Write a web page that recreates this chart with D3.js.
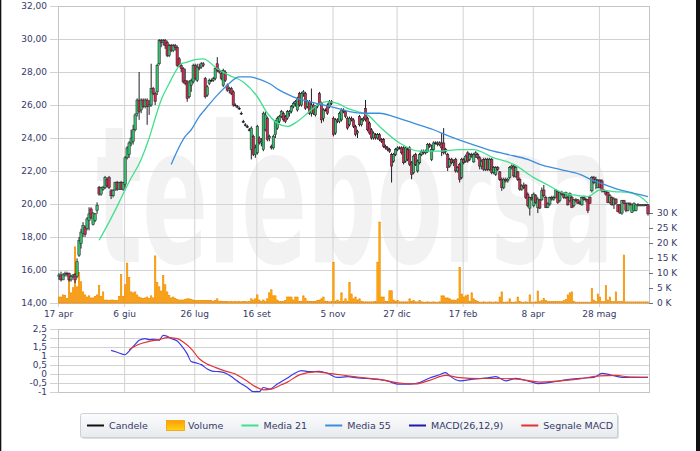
<!DOCTYPE html>
<html><head><meta charset="utf-8">
<script src="https://cdn.jsdelivr.net/npm/d3@7"></script>
<style>body{margin:0;background:#fff}svg{display:block}</style>
</head><body>
<script>
// ---------- DATA ----------
const open=[
15.6,15.7,15.4,15.7,15.8,15.8,15.4,15.6,15.75,15.6,
16.9,17.6,18.2,18.6,18.5,19.0,19.7,18.75,19.0,19.6,
21.0,20.6,20.9,21.0,21.5,21.6,20.8,20.5,20.85,21.3,
20.9,21.3,20.9,21.2,22.8,23.0,23.7,23.8,24.5,25.5,
26.3,25.7,26.3,25.9,26.3,25.9,26.0,27.0,26.7,26.8,
28.5,29.9,29.8,29.9,29.8,29.0,29.6,29.3,29.6,29.5,
28.8,28.4,28.2,27.5,27.4,26.5,27.2,27.4,28.4,27.5,
28.3,28.3,28.5,27.6,26.6,27.3,27.5,27.5,27.6,28.5,
28.1,27.9,27.2,28.0,27.2,26.9,27.0,26.8,26.0,25.9,
25.8,25.5,25.0,24.8,24.7,24.5,23.3,24.1,23.0,23.1,
24.0,23.7,23.3,24.5,25.2,24.0,23.5,23.4,24.2,24.6,
25.0,25.3,25.5,25.3,25.2,25.5,25.6,25.9,26.1,25.7,
26.7,26.0,26.7,26.7,25.9,26.2,25.5,26.0,25.4,25.9,
26.7,26.1,25.2,25.7,26.0,25.9,26.2,25.2,24.3,25.1,
25.0,25.1,25.7,25.6,25.2,24.8,25.2,25.1,24.7,24.3,
25.3,24.8,25.1,25.8,25.2,24.9,24.5,24.0,24.2,24.0,
24.2,23.9,23.9,23.5,23.4,23.3,23.0,22.6,23.0,23.3,
23.4,23.4,23.4,22.6,23.3,23.4,22.5,21.9,23.0,22.0,
22.5,23.0,23.2,23.1,23.2,23.6,22.7,23.3,23.7,23.7,
23.6,23.7,23.7,23.2,23.0,22.3,22.7,22.5,22.7,22.0,
22.4,21.6,22.7,22.6,23.1,22.7,23.0,22.55,23.0,23.0,
22.8,22.3,22.7,22.1,22.7,22.1,22.7,21.9,21.8,22.2,
21.95,21.5,21.0,21.5,21.4,21.6,22.2,22.3,21.65,21.95,
21.5,20.9,21.1,21.15,20.6,19.75,20.4,19.9,20.5,19.8,
20.25,20.25,20.85,20.4,19.8,20.0,20.4,20.3,20.4,20.75,
20.2,20.7,20.6,20.4,20.4,20.2,20.4,19.9,20.25,20.25,
20.05,19.95,20.4,20.3,20.25,20.4,20.8,21.6,21.3,21.0,
21.45,21.4,20.8,20.75,20.7,20.1,20.4,19.95,20.3,19.95,
19.95,19.45,20.2,20.05,19.6,20.05,19.5,19.6,19.6,19.95,
19.9,19.95,19.9,19.95,19.95];
const high=[
15.8,15.9,15.8,15.9,15.9,15.85,15.7,15.75,15.8,16.7,
18.0,18.5,18.9,18.7,19.2,19.8,19.8,19.5,19.45,20.1,
21.1,21.05,21.1,21.7,21.6,21.7,20.9,20.9,21.35,21.4,
21.35,21.4,21.35,22.9,23.5,23.8,24.5,24.8,25.5,26.4,
28.0,26.4,26.4,26.4,26.4,26.3,28.5,27.1,26.8,28.5,
30.0,30.0,30.0,30.0,29.9,29.7,29.7,29.7,29.7,29.6,
28.9,28.5,28.3,28.2,27.5,27.5,27.6,28.5,28.5,28.5,
28.5,28.6,28.6,27.7,27.2,27.6,27.6,27.7,28.3,28.9,
28.2,28.1,28.2,28.1,27.3,27.1,27.1,26.9,26.1,26.0,
25.9,25.6,25.1,24.9,24.8,24.6,24.7,24.2,23.6,24.8,
24.1,24.0,25.6,25.6,25.3,24.2,23.6,24.2,25.1,25.3,
25.4,25.7,25.6,25.4,25.7,25.7,26.0,26.2,26.3,26.5,
26.8,26.8,26.9,26.8,26.3,26.3,27.0,26.1,26.0,26.1,
26.8,26.2,25.8,25.8,26.1,26.3,26.3,25.3,25.2,25.2,
25.6,25.8,25.8,25.7,25.3,25.3,25.3,25.2,24.8,24.5,
25.4,25.2,25.3,26.3,25.3,25.0,24.6,24.4,24.3,24.3,
24.3,24.0,24.0,23.6,23.5,23.4,23.1,23.1,23.4,23.5,
23.5,23.5,23.5,23.5,23.4,23.5,22.6,23.0,23.1,22.7,
23.1,23.3,23.3,23.3,23.7,23.7,23.6,23.8,23.8,23.8,
23.8,24.3,24.6,23.4,23.1,22.8,22.8,22.7,22.8,22.3,
22.5,22.8,22.8,23.0,23.2,23.1,23.1,23.1,23.2,23.1,
22.9,22.7,22.8,22.8,22.8,22.8,22.8,22.3,22.3,22.3,
22.0,21.6,21.6,21.6,21.6,22.3,22.4,22.4,22.3,22.0,
21.6,21.2,21.3,21.2,20.7,20.45,20.6,20.7,20.6,20.4,
20.3,21.0,21.15,20.5,20.1,20.45,20.5,20.5,20.9,20.8,
20.75,20.8,20.7,20.75,20.5,20.7,20.5,20.3,20.35,20.3,
20.2,20.45,20.5,20.35,20.3,20.5,21.7,21.7,21.65,21.5,
21.5,21.5,20.9,20.8,20.75,20.6,20.45,20.4,20.35,20.0,
20.0,20.25,20.25,20.1,20.1,20.1,20.0,20.1,20.0,20.05,
20.0,20.0,20.0,20.0,20.0];
const low=[
15.4,15.3,15.4,15.6,15.6,15.3,15.3,15.5,15.2,15.5,
16.8,17.3,18.0,18.0,18.4,18.4,19.1,18.7,18.9,19.4,
20.5,20.5,20.8,20.9,21.0,20.9,20.3,20.4,20.8,20.8,
20.85,20.85,20.8,21.0,22.7,22.8,23.5,23.6,24.4,25.3,
25.1,25.5,25.8,25.8,24.8,25.4,25.9,26.6,26.0,26.6,
28.4,29.5,29.6,29.4,28.9,28.9,29.2,29.2,29.3,28.3,
28.3,28.0,27.3,27.2,26.2,26.4,26.8,27.3,27.5,27.4,
28.1,28.2,28.3,26.4,26.5,27.2,27.4,27.4,27.5,28.0,
27.9,27.5,27.1,27.4,26.8,26.7,26.6,25.9,25.9,25.8,
25.7,25.4,24.9,24.7,24.6,24.4,22.7,22.9,22.8,23.0,
23.6,23.5,23.2,24.4,23.8,23.8,23.3,23.3,24.0,24.5,
24.9,25.2,25.0,24.9,25.1,25.3,25.5,25.8,25.9,25.6,
25.9,25.9,26.5,25.7,25.8,25.4,25.3,25.4,25.3,25.8,
26.0,24.9,25.0,25.6,25.4,25.8,26.0,24.1,24.2,24.9,
24.9,25.0,25.5,25.2,24.5,24.7,25.0,24.6,24.1,24.0,
24.7,24.7,25.0,25.0,24.4,24.2,23.9,23.9,23.9,23.9,
23.8,23.7,23.4,23.3,23.2,23.1,21.3,22.5,22.9,23.2,
23.3,23.0,22.4,22.5,22.6,22.3,21.5,21.8,22.3,21.9,
22.4,22.9,23.0,23.0,23.1,23.4,22.6,23.2,23.6,23.5,
23.5,22.9,23.0,23.0,22.0,22.2,22.4,22.3,21.9,21.9,
21.3,21.5,22.4,22.5,22.5,22.6,22.8,22.5,22.8,22.7,
22.1,22.1,22.0,22.0,22.0,22.0,21.8,21.8,21.7,22.0,
21.4,20.8,20.9,21.3,21.3,21.5,22.1,21.6,21.6,21.4,
20.8,20.8,20.9,20.3,19.8,19.3,20.2,19.8,20.0,19.45,
19.7,20.2,20.4,19.75,19.75,19.9,20.2,20.2,20.35,20.0,
20.1,20.5,20.3,20.3,19.9,20.1,19.75,19.8,20.1,20.0,
19.95,19.9,20.2,20.1,19.45,20.0,20.7,21.2,20.9,20.95,
20.95,20.7,20.7,20.5,20.05,20.0,19.9,19.7,20.0,19.5,
19.4,19.35,20.0,19.5,19.55,19.9,19.45,19.55,19.55,19.85,
19.85,19.85,19.85,19.9,19.3];
const close=[
15.7,15.4,15.7,15.8,15.75,15.4,15.6,15.7,15.4,16.5,
17.8,18.3,18.7,18.15,19.1,19.4,19.15,19.45,19.4,19.9,
20.6,21.0,21.0,21.6,21.1,21.0,20.5,20.8,21.3,20.9,
21.3,20.9,21.3,22.8,23.4,23.7,24.0,24.5,25.4,26.3,
25.6,26.3,25.9,26.3,25.9,26.0,27.0,26.7,26.2,28.4,
29.9,29.8,29.9,29.6,29.0,29.6,29.3,29.6,29.5,28.4,
28.4,28.2,27.4,27.3,26.4,27.4,27.5,28.4,27.6,28.3,
28.2,28.5,28.4,26.5,27.1,27.5,27.5,27.6,28.2,28.1,
28.0,27.6,28.1,27.5,26.9,27.0,26.7,26.0,26.0,25.85,
25.8,25.5,25.0,24.8,24.7,24.5,24.6,23.0,23.4,24.7,
23.7,23.8,25.5,25.4,23.9,24.1,23.4,24.1,25.0,25.2,
25.3,25.6,25.1,25.0,25.6,25.6,25.9,26.1,26.2,26.4,
26.0,26.7,26.8,25.8,26.2,25.5,26.0,25.5,25.9,26.0,
26.1,25.1,25.7,25.7,25.5,26.2,26.1,24.2,25.1,25.0,
25.5,25.7,25.6,25.3,24.6,25.2,25.1,24.7,24.2,24.4,
24.8,25.1,25.2,25.1,24.5,24.3,24.0,24.3,24.0,24.2,
23.9,23.8,23.5,23.4,23.3,23.2,22.3,23.0,23.3,23.4,
23.4,23.1,22.5,23.4,22.7,22.4,21.8,22.9,22.4,22.6,
23.0,23.2,23.1,23.2,23.6,23.5,23.3,23.7,23.7,23.6,
23.7,23.4,23.1,23.3,22.2,22.7,22.5,22.6,22.0,22.2,
21.5,22.7,22.5,22.9,22.6,23.0,22.9,23.0,23.1,22.8,
22.3,22.6,22.1,22.7,22.1,22.7,21.9,22.2,22.2,22.1,
21.5,21.0,21.5,21.4,21.5,22.2,22.3,21.7,22.2,21.5,
20.9,21.1,21.0,20.4,19.9,20.4,20.3,20.6,20.1,20.3,
19.75,20.8,20.5,19.8,20.0,20.4,20.3,20.4,20.85,20.1,
20.7,20.6,20.4,20.7,19.95,20.65,19.8,20.25,20.2,20.05,
20.1,20.4,20.3,20.25,19.6,20.05,21.6,21.3,21.5,21.45,
21.0,20.8,20.75,20.6,20.1,20.5,19.95,20.3,20.05,19.55,
19.45,20.2,20.05,19.6,20.05,19.95,19.95,20.05,19.95,19.9,
19.95,19.9,19.95,19.95,19.4];
// volume in thousands
const volume=[
2.0,2.0,2.7,2.5,1.5,7.8,3.4,5.1,18.7,5.4,
10.2,7.1,3.7,2.7,2.0,2.4,1.7,1.7,2.2,2.7,
5.8,2.2,3.7,1.0,1.0,0.8,1.0,1.0,0.8,0.8,
2.2,9.5,2.2,6.1,13.3,8.5,3.7,3.4,3.7,2.7,
2.0,1.7,1.5,1.7,2.0,1.5,2.4,1.7,15.7,6.8,
5.4,4.0,9.2,6.1,3.7,2.5,1.7,2.0,1.5,1.2,
1.0,1.0,1.0,1.2,1.4,1.4,1.2,1.0,0.8,0.9,
0.8,0.9,0.8,0.8,0.9,0.8,0.8,0.6,0.8,1.4,
0.6,0.6,0.5,0.5,0.5,0.4,0.5,0.4,0.5,0.4,
0.5,0.4,0.5,0.5,0.4,0.5,1.4,1.0,1.4,2.7,
1.0,0.5,1.0,0.5,1.4,3.4,4.4,2.4,2.4,1.0,
0.5,0.5,0.5,0.8,2.0,2.0,2.0,1.0,2.0,2.0,
0.6,0.6,2.4,1.5,0.6,0.6,0.5,0.5,0.5,0.8,
1.0,1.4,2.0,0.6,0.6,0.4,0.5,13.6,0.6,1.0,
0.5,3.4,0.6,1.4,0.6,6.8,3.0,1.4,2.0,1.0,
1.4,0.6,0.4,0.4,0.4,0.4,0.4,0.4,0.5,13.6,
27.0,2.0,2.0,0.6,0.5,4.1,4.1,1.0,0.6,0.8,
0.4,0.4,0.4,0.4,0.4,1.4,0.6,0.8,0.4,0.4,
0.8,0.4,0.3,0.3,0.4,0.3,0.3,0.4,0.3,0.3,
0.4,2.4,2.4,1.7,1.7,1.4,1.0,1.0,0.8,1.4,
11.9,3.0,2.0,2.4,2.7,0.6,3.4,1.4,0.8,0.6,
0.3,0.3,0.4,0.3,0.3,0.4,0.3,0.3,0.4,0.3,
2.0,3.7,0.3,0.3,0.4,1.4,0.3,0.3,0.4,2.0,
0.6,0.3,0.3,0.4,0.3,2.7,0.3,0.3,0.4,4.0,
0.5,0.8,1.5,0.8,0.5,0.5,0.5,0.5,0.5,0.5,
0.5,0.5,0.8,1.2,2.7,3.4,3.7,0.6,0.3,0.3,
0.3,0.3,0.3,0.3,0.3,0.3,4.8,1.0,0.5,3.0,
2.0,0.5,0.5,5.8,1.0,2.0,0.5,0.5,3.7,0.5,
0.5,0.5,16.0,0.4,0.4,0.4,0.4,0.4,0.4,0.4,
0.4,0.4,0.4,0.4,0.4];
// moving averages (candle index, value)
const ma21Idx=[20,25,30,35,41,45,48,51,55,58,61,64,68,72,79,85,92,99,104,109,114,119,124,129,134,139,144,149,154,160,170,180,190,200,207,217,227,237,244,250,257,264,270,277,284,290,294];
const ma21Val=[17.8,18.9,20.1,21.35,22.7,24.0,25.2,26.3,27.3,28.0,28.5,28.6,28.75,28.8,28.2,27.8,27.4,26.5,25.5,24.9,24.7,25.0,25.5,26.0,26.2,26.1,25.8,25.6,25.4,24.7,23.7,23.2,23.2,23.3,23.3,22.8,22.4,21.6,21.15,20.75,20.55,20.45,20.85,20.75,20.7,20.45,20.05];
const ma55Idx=[56,63,66,70,72,79,84,90,95,99,105,110,115,120,125,132,139,145,152,160,167,177,187,195,204,214,224,234,240,250,260,267,274,280,287,294];
const ma55Val=[22.4,24.1,24.5,25.3,25.6,26.6,27.2,27.7,27.7,27.6,27.3,26.9,26.6,26.35,26.2,26.0,25.8,25.6,25.5,25.5,25.3,24.9,24.5,24.1,23.7,23.3,23.0,22.7,22.4,22.1,21.8,21.4,21.1,20.85,20.65,20.45];
// MACD panel
const macdIdx=[26,29,33,35,38,40,43,45,48,50,52,54,56,59,61,64,66,69,71,74,77,80,84,87,90,94,97,100,102,105,109,114,117,121,125,130,134,139,144,149,157,164,169,175,180,185,190,193,195,200,207,214,218,223,228,234,239,245,252,260,267,271,275,282,287,294];
const macdVal=[1.31,1.21,1.07,1.27,1.65,1.87,1.97,1.91,1.93,1.87,2.15,2.1,1.97,1.83,1.59,1.12,0.69,0.6,0.52,0.28,0.15,0.13,0.0,-0.22,-0.47,-0.75,-0.98,-0.98,-0.75,-0.84,-0.56,-0.22,0.0,0.19,0.13,0.15,0.04,-0.19,-0.15,-0.22,-0.28,-0.38,-0.56,-0.56,-0.47,-0.22,-0.04,0.08,-0.1,-0.38,-0.28,-0.22,-0.15,-0.38,-0.24,-0.38,-0.53,-0.47,-0.34,-0.24,-0.19,0.04,-0.04,-0.19,-0.19,-0.19];
const sigIdx=[35,40,45,50,54,59,62,66,70,74,78,82,88,94,98,102,106,110,114,120,128,136,144,150,160,170,178,185,193,200,210,220,230,240,250,260,270,278,285,294];
const sigVal=[1.35,1.65,1.81,1.91,2.02,1.97,1.78,1.4,0.85,0.55,0.37,0.2,0.0,-0.4,-0.7,-0.88,-0.84,-0.65,-0.45,-0.05,0.12,0.02,-0.1,-0.18,-0.3,-0.5,-0.55,-0.35,-0.08,-0.2,-0.25,-0.25,-0.3,-0.45,-0.38,-0.27,-0.1,-0.08,-0.17,-0.18];
// axes
const tickIdx=[0,33,68,99,137,169,202,237,270];
const tickLbl=["17 apr","6 giu","26 lug","16 set","5 nov","27 dic","17 feb","8 apr","28 mag"];
const priceTicks=[14,16,18,20,22,24,26,28,30,32];
const volTicks=[0,5,10,15,20,25,30];
const macdTicks=[-1,-0.5,0,0.5,1,1.5,2,2.5];
const legendLabels=["Candele","Volume","Media 21","Media 55","MACD(26,12,9)","Segnale MACD"];

// ---------- DRAWING ----------
const FONT='"DejaVu Sans", Verdana, sans-serif';
const TXT="#363a68", GRID="#d2d2d2";
const C_UP="#3cbd6c", C_DN="#c8304e", C_M21="#3fe08e", C_M55="#3a8ee0", C_MACD="#3a3ae6", C_SIG="#e23232";
const N=close.length;
const L=58,R=649,PT=6,PB=303,MT=329,MB=392;

const svg=d3.select("body").append("svg").attr("width",700).attr("height",451);
const defs=svg.append("defs");
const lg=defs.append("linearGradient").attr("id","legbg").attr("x1",0).attr("y1",0).attr("x2",0).attr("y2",1);
lg.append("stop").attr("offset","0%").attr("stop-color","#fbfcfd");
lg.append("stop").attr("offset","100%").attr("stop-color","#e7eaee");
const vg=defs.append("linearGradient").attr("id","volsw").attr("x1",0).attr("y1",0).attr("x2",0).attr("y2",1);
vg.append("stop").attr("offset","0%").attr("stop-color","#ff9d00");
vg.append("stop").attr("offset","100%").attr("stop-color","#ffd21a");

svg.append("rect").attr("width",700).attr("height",451).attr("fill","#fff");

const x=d3.scaleLinear().domain([0,N]).range([L,R]);
const cx=i=>x(i+0.5);
const yP=d3.scaleLinear().domain([14,32]).range([PB,PT]);
const yV=d3.scaleLinear().domain([0,30]).range([PB,213]);
const yM=d3.scaleLinear().domain([-1,2.5]).range([MB,MT]);

// watermark (logo), squeezed horizontally with a transform so its box is its real box
const wm=svg.append("text").attr("x",0).attr("y",0)
  .attr("font-family",FONT).attr("font-weight","bold").attr("font-size",190).attr("fill","#f2f2f2").text("teleborsa");
const wmW=wm.node().getComputedTextLength();
wm.attr("transform",`translate(96,262) scale(${518/wmW},1)`);

function styleAxis(g){
  g.attr("font-family",FONT).attr("font-size",9);
  g.select(".domain").remove();
  g.selectAll("line").attr("stroke",GRID);
  g.selectAll("text").attr("fill",TXT);
}
// price grid + labels
svg.append("g").attr("transform",`translate(${L},0)`)
  .call(d3.axisLeft(yP).tickValues(priceTicks).tickSize(-(R-L)).tickPadding(11).tickFormat(d=>d3.format(".2f")(d).replace(".",",")))
  .call(styleAxis);
svg.append("g").attr("transform",`translate(${L},0)`)
  .call(d3.axisLeft(yP).tickValues(priceTicks).tickSize(8).tickFormat(""))
  .call(styleAxis);
// vertical grid + date labels
svg.append("g").attr("transform",`translate(0,${PB+4})`)
  .call(d3.axisBottom(x).tickValues(tickIdx).tickSize(-(PB-PT+4)).tickPadding(4).tickFormat((d,i)=>tickLbl[i]))
  .call(styleAxis);
// plot border
svg.append("rect").attr("x",L+0.5).attr("y",PT+0.5).attr("width",R-L).attr("height",PB-PT).attr("fill","none").attr("stroke","#c4c4c4");
// volume axis
svg.append("g").attr("transform",`translate(${R},0)`)
  .call(d3.axisRight(yV).tickValues(volTicks).tickSize(4).tickPadding(4).tickFormat(d=>d+" K"))
  .call(styleAxis).call(g=>g.selectAll("line").attr("stroke","#6a6e90"));

// volume bars
svg.append("g").selectAll("rect").data(volume).join("rect")
  .attr("x",(d,i)=>x(i)+0.3).attr("width",1.4)
  .attr("y",d=>yV(d)).attr("height",d=>PB-yV(d))
  .attr("fill","#ffb000").attr("stroke","#f08400").attr("stroke-width",0.6);

// candles
const cg=svg.append("g");
cg.selectAll("line").data(close).join("line")
  .attr("x1",(d,i)=>cx(i)).attr("x2",(d,i)=>cx(i))
  .attr("y1",(d,i)=>yP(high[i])).attr("y2",(d,i)=>yP(low[i]))
  .attr("stroke","#1e1e28").attr("stroke-width",1);
cg.selectAll("rect").data(close).join("rect")
  .attr("x",(d,i)=>cx(i)-1.2).attr("width",2.4)
  .attr("y",(d,i)=>yP(Math.max(open[i],d)))
  .attr("height",(d,i)=>Math.max(0.8,Math.abs(yP(open[i])-yP(d))))
  .attr("fill",(d,i)=>d>open[i]?C_UP:(d<open[i]?C_DN:"#1e1e28"))
  .attr("stroke","#1e1e28").attr("stroke-width",0.5);

// moving averages
const lineP=d3.line().x(d=>cx(d[0])).y(d=>yP(d[1])).curve(d3.curveMonotoneX);
svg.append("path").attr("d",lineP(d3.zip(ma21Idx,ma21Val))).attr("fill","none").attr("stroke",C_M21).attr("stroke-width",1.3);
svg.append("path").attr("d",lineP(d3.zip(ma55Idx,ma55Val))).attr("fill","none").attr("stroke",C_M55).attr("stroke-width",1.3);

// MACD panel
svg.append("g").attr("transform",`translate(${L},0)`)
  .call(d3.axisLeft(yM).tickValues(macdTicks).tickSize(-(R-L)).tickPadding(11).tickFormat(d=>String(d).replace(".",",")))
  .call(styleAxis);
svg.append("g").attr("transform",`translate(${L},0)`)
  .call(d3.axisLeft(yM).tickValues(macdTicks).tickSize(8).tickFormat(""))
  .call(styleAxis);
svg.append("g").attr("transform",`translate(0,${MB})`)
  .call(d3.axisBottom(x).tickValues(tickIdx).tickSize(-(MB-MT)).tickFormat(""))
  .call(styleAxis);
svg.append("rect").attr("x",L+0.5).attr("y",MT+0.5).attr("width",R-L).attr("height",MB-MT).attr("fill","none").attr("stroke","#c4c4c4");
const lineM=d3.line().x(d=>cx(d[0])).y(d=>yM(d[1])).curve(d3.curveMonotoneX);
svg.append("path").attr("d",lineM(d3.zip(macdIdx,macdVal))).attr("fill","none").attr("stroke",C_MACD).attr("stroke-width",1.2);
svg.append("path").attr("d",lineM(d3.zip(sigIdx,sigVal))).attr("fill","none").attr("stroke",C_SIG).attr("stroke-width",1.2);

// legend
const LX0=80,LX1=617,LY0=413,LY1=437;
svg.append("rect").attr("x",LX0+2).attr("y",LY0+2).attr("width",LX1-LX0).attr("height",LY1-LY0).attr("rx",2).attr("fill","#dcdfe3");
svg.append("rect").attr("x",LX0+0.5).attr("y",LY0+0.5).attr("width",LX1-LX0).attr("height",LY1-LY0).attr("rx",2).attr("fill","url(#legbg)").attr("stroke","#cdd1d6");
const legColors=["#111","vol",C_M21,C_M55,"#1c1ca8",C_SIG];
const leg=svg.append("g");
const ly=(LY0+LY1)/2+0.5;
const items=legendLabels.map((t,i)=>{
  const g=leg.append("g");
  const tx=g.append("text").attr("x",22).attr("y",ly+3.4).attr("font-family",FONT).attr("font-size",9.5).attr("fill",TXT).text(t);
  if(legColors[i]==="vol") g.append("rect").attr("x",0.5).attr("y",ly-5).attr("width",18).attr("height",10).attr("fill","url(#volsw)").attr("stroke","#f0a000").attr("stroke-width",0.8);
  else g.append("line").attr("x1",0).attr("x2",17).attr("y1",ly).attr("y2",ly).attr("stroke",legColors[i]).attr("stroke-width",2);
  return {g,w:22+tx.node().getComputedTextLength()};
});
const totalW=d3.sum(items,d=>d.w);
const start=87,end=613;
const gap=(end-start-totalW)/(items.length-1);
let px=start;
items.forEach(it=>{it.g.attr("transform",`translate(${px},0)`);px+=it.w+gap;});

// outer dark edges
svg.append("rect").attr("x",0).attr("y",0).attr("width",1.3).attr("height",451).attr("fill","#111");
svg.append("rect").attr("x",696).attr("y",0).attr("width",4).attr("height",451).attr("fill","#111");
</script>
</body></html>
